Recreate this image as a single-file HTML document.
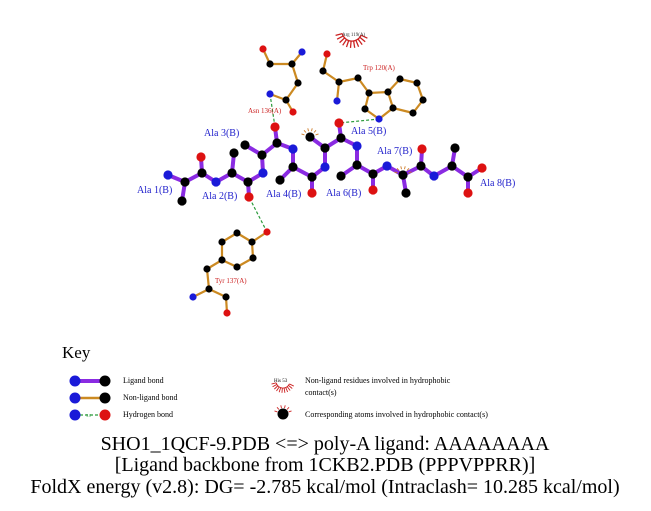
<!DOCTYPE html>
<html><head><meta charset="utf-8"><style>
html,body{margin:0;padding:0;background:#fff;width:651px;height:511px;overflow:hidden}
svg{display:block}
text{font-family:"Liberation Serif",serif}
</style></head><body>
<svg width="651" height="511" viewBox="0 0 651 511" xmlns="http://www.w3.org/2000/svg">
<defs>
<g id="bigarc" fill="none">
<path d="M361.1,35.2 A10 10 0 0 1 342.3,33.6"/>
<path d="M361.1,35.2L367.4,38.2M359.8,37.3L365.2,41.7M358,39L362.2,44.6M355.9,40.2L358.6,46.7M353.6,40.9L354.7,47.8M351.1,41L350.5,47.9M348.7,40.5L346.5,47.1M346.6,39.4L342.7,45.3M344.7,37.8L339.6,42.6M343.3,35.9L337.1,39.2M342.3,33.6L335.6,35.4"/>
</g>
<g id="sa" fill="none">
<path d="M-5.6,-2.1L-8.5,-3.1M-4,-4.5L-6,-6.7M-1.5,-5.8L-2.2,-8.7M1.5,-5.8L2.2,-8.7M4,-4.5L6,-6.7M5.6,-2.1L8.5,-3.1"/>
</g>
</defs>
<g stroke="#2a9a3a" stroke-width="1.2" stroke-dasharray="3,2" fill="none">
<line x1="270" y1="94" x2="275" y2="127"/>
<line x1="379" y1="119" x2="339" y2="123"/>
<line x1="267" y1="232" x2="249" y2="197"/>
<line x1="75" y1="415" x2="105" y2="415"/>
</g>
<g fill="none" stroke="#8a2be2" stroke-width="4" stroke-linejoin="round">
<path d="M168,175L185,182L202,173L216,182L232,173L248,182L263,173L262,155L277,143L293,149L293,167L312,177L325,167L325,148L341,138L357,146L357,165L373,174L387,166L403,175L421,166L434,176L452,166L468,177L482,168"/>
<path d="M185,182L182,201M202,173L201,157M232,173L234,153M248,182L249,197M262,155L245,145M277,143L275,127M293,167L280,180M312,177L312,193M325,148L310,137M341,138L339,123M357,165L341,176M373,174L373,190M403,175L406,193M421,166L422,149M452,166L455,148M468,177L468,193"/>
<path d="M75,381L105,381"/>
</g>
<g fill="none" stroke="#cc8a22" stroke-width="2.2" stroke-linejoin="round">
<path d="M263,49L270,64L292,64L302,52M292,64L298,83L286,100L270,94M286,100L293,112"/>
<path d="M327,54L323,71L339,82L337,101M339,82L358,78L369,93L365,109L379,119L393,108L388,92L369,93M388,92L400,79L417,83L423,100L413,113L393,108"/>
<path d="M267,232L252,242L237,233L222,242L222,260L237,267L253,258L252,242M222,260L207,269L209,289L193,297M209,289L226,297L227,313"/>
<path d="M75,398L105,398" stroke-width="2.5"/>
</g>
<g stroke="#cc2222" stroke-width="1.3">
<use href="#bigarc"/>
<use href="#bigarc" transform="translate(283,381) scale(0.7) translate(-352,-31)"/>
<use href="#sa" transform="translate(283,414)" stroke-width="0.9"/>
</g>
<g stroke="#cc7722" stroke-width="0.9">
<use href="#sa" transform="translate(310,137)"/>
<use href="#sa" transform="translate(403,175)"/>
</g>
<g fill="#1a1ad8">
<circle cx="168" cy="175" r="4.6"/><circle cx="216" cy="182" r="4.6"/><circle cx="263" cy="173" r="4.6"/><circle cx="293" cy="149" r="4.6"/><circle cx="325" cy="167" r="4.6"/><circle cx="357" cy="146" r="4.6"/><circle cx="387" cy="166" r="4.6"/><circle cx="434" cy="176" r="4.6"/>
<circle cx="302" cy="52" r="3.6"/><circle cx="270" cy="94" r="3.6"/><circle cx="337" cy="101" r="3.6"/><circle cx="379" cy="119" r="3.6"/><circle cx="193" cy="297" r="3.6"/>
<circle cx="75" cy="381" r="5.5"/><circle cx="75" cy="398" r="5.5"/><circle cx="75" cy="415" r="5.5"/>
</g>
<g fill="#dd1111">
<circle cx="201" cy="157" r="4.6"/><circle cx="249" cy="197" r="4.6"/><circle cx="275" cy="127" r="4.6"/><circle cx="312" cy="193" r="4.6"/><circle cx="339" cy="123" r="4.6"/><circle cx="373" cy="190" r="4.6"/><circle cx="422" cy="149" r="4.6"/><circle cx="482" cy="168" r="4.6"/><circle cx="468" cy="193" r="4.6"/>
<circle cx="263" cy="49" r="3.6"/><circle cx="293" cy="112" r="3.6"/><circle cx="327" cy="54" r="3.6"/><circle cx="267" cy="232" r="3.6"/><circle cx="227" cy="313" r="3.6"/>
<circle cx="105" cy="415" r="5.5"/>
</g>
<g fill="#000">
<circle cx="185" cy="182" r="4.6"/><circle cx="182" cy="201" r="4.6"/><circle cx="202" cy="173" r="4.6"/>
<circle cx="232" cy="173" r="4.6"/><circle cx="234" cy="153" r="4.6"/><circle cx="248" cy="182" r="4.6"/>
<circle cx="262" cy="155" r="4.6"/><circle cx="245" cy="145" r="4.6"/><circle cx="277" cy="143" r="4.6"/>
<circle cx="293" cy="167" r="4.6"/><circle cx="280" cy="180" r="4.6"/><circle cx="312" cy="177" r="4.6"/>
<circle cx="325" cy="148" r="4.6"/><circle cx="310" cy="137" r="4.6"/><circle cx="341" cy="138" r="4.6"/>
<circle cx="357" cy="165" r="4.6"/><circle cx="341" cy="176" r="4.6"/><circle cx="373" cy="174" r="4.6"/>
<circle cx="403" cy="175" r="4.6"/><circle cx="406" cy="193" r="4.6"/><circle cx="421" cy="166" r="4.6"/>
<circle cx="452" cy="166" r="4.6"/><circle cx="455" cy="148" r="4.6"/><circle cx="468" cy="177" r="4.6"/>
<circle cx="270" cy="64" r="3.6"/><circle cx="292" cy="64" r="3.6"/><circle cx="298" cy="83" r="3.6"/><circle cx="286" cy="100" r="3.6"/>
<circle cx="323" cy="71" r="3.6"/><circle cx="339" cy="82" r="3.6"/><circle cx="358" cy="78" r="3.6"/><circle cx="369" cy="93" r="3.6"/><circle cx="365" cy="109" r="3.6"/><circle cx="393" cy="108" r="3.6"/><circle cx="388" cy="92" r="3.6"/><circle cx="400" cy="79" r="3.6"/><circle cx="417" cy="83" r="3.6"/><circle cx="423" cy="100" r="3.6"/><circle cx="413" cy="113" r="3.6"/>
<circle cx="252" cy="242" r="3.6"/><circle cx="237" cy="233" r="3.6"/><circle cx="222" cy="242" r="3.6"/><circle cx="222" cy="260" r="3.6"/><circle cx="237" cy="267" r="3.6"/><circle cx="253" cy="258" r="3.6"/><circle cx="207" cy="269" r="3.6"/><circle cx="209" cy="289" r="3.6"/><circle cx="226" cy="297" r="3.6"/>
<circle cx="105" cy="381" r="5.5"/><circle cx="105" cy="398" r="5.5"/><circle cx="283" cy="414" r="5.5"/>
</g>
<g fill="#2222cc" font-size="10">
<text x="137" y="193">Ala 1(B)</text>
<text x="202" y="199">Ala 2(B)</text>
<text x="204" y="136">Ala 3(B)</text>
<text x="266" y="197">Ala 4(B)</text>
<text x="351" y="134">Ala 5(B)</text>
<text x="326" y="196">Ala 6(B)</text>
<text x="377" y="154">Ala 7(B)</text>
<text x="480" y="186">Ala 8(B)</text>
</g>
<g fill="#cc2222" font-size="7">
<text x="248" y="113">Asn 136(A)</text>
<text x="363" y="70">Trp 120(A)</text>
<text x="215" y="283">Tyr 137(A)</text>
</g>
<text x="342" y="36" font-size="5" fill="#333">Arg 119(A)</text>
<text x="62" y="358" font-size="17">Key</text>
<g font-size="8" fill="#000">
<text x="123" y="383">Ligand bond</text>
<text x="123" y="400">Non-ligand bond</text>
<text x="123" y="417">Hydrogen bond</text>
<text x="305" y="383">Non-ligand residues involved in hydrophobic</text>
<text x="305" y="395">contact(s)</text>
<text x="305" y="417">Corresponding atoms involved in hydrophobic contact(s)</text>
<text x="274" y="382" font-size="5">His 53</text>
<text x="86" y="417" font-size="4" fill="#2a9a3a">3.0</text>
</g>
<g font-size="20" text-anchor="middle" fill="#000">
<text x="325" y="450">SHO1_1QCF-9.PDB &lt;=&gt; poly-A ligand: AAAAAAAA</text>
<text x="325" y="471">[Ligand backbone from 1CKB2.PDB (PPPVPPRR)]</text>
<text x="325" y="493">FoldX energy (v2.8): DG= -2.785 kcal/mol (Intraclash= 10.285 kcal/mol)</text>
</g>
</svg>
</body></html>
